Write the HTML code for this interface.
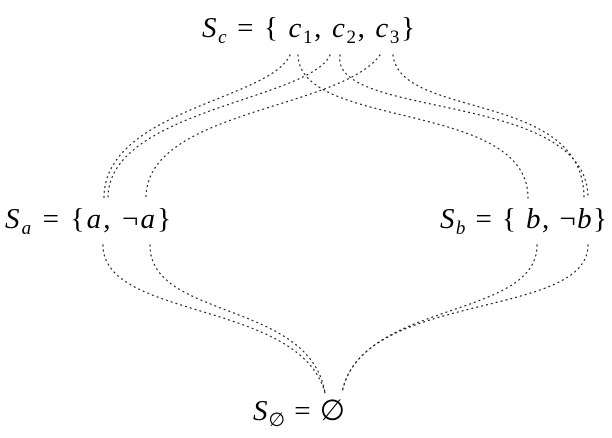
<!DOCTYPE html>
<html><head><meta charset="utf-8"><style>
html,body{margin:0;padding:0;background:#fff;}
svg{display:block}
text{font-family:"Liberation Serif","DejaVu Serif",serif;font-size:29px;fill:#000}
.i{font-style:italic}
.s{font-size:19px}
path{fill:none;stroke:#222;stroke-width:1.2;stroke-dasharray:1 4;stroke-linecap:round}
</style></head><body>
<svg width="612" height="438" viewBox="0 0 612 438">
<text x="202" y="37" textLength="213" lengthAdjust="spacing"><tspan class="i">S</tspan><tspan class="i s" dy="6">c</tspan><tspan dy="-6"> = { </tspan><tspan class="i">c</tspan><tspan class="s" dy="6">1</tspan><tspan dy="-6">, </tspan><tspan class="i">c</tspan><tspan class="s" dy="6">2</tspan><tspan dy="-6">, </tspan><tspan class="i">c</tspan><tspan class="s" dy="6">3</tspan><tspan dy="-6">}</tspan></text>
<text x="5" y="228" textLength="166" lengthAdjust="spacing"><tspan class="i">S</tspan><tspan class="i s" dy="6">a</tspan><tspan dy="-6"> = {</tspan><tspan class="i">a</tspan><tspan>, ¬</tspan><tspan class="i">a</tspan><tspan>}</tspan></text>
<text x="440" y="228" textLength="167" lengthAdjust="spacing"><tspan class="i">S</tspan><tspan class="i s" dy="6">b</tspan><tspan dy="-6"> = { </tspan><tspan class="i">b</tspan><tspan>,  ¬</tspan><tspan class="i">b</tspan><tspan>}</tspan></text>
<text x="253" y="420" textLength="92" lengthAdjust="spacing"><tspan class="i">S</tspan><tspan class="s" dy="6">∅</tspan><tspan dy="-6"> = ∅</tspan></text>
<path d="M290 55 C270 100 104 110 104 198"/>
<path d="M298 55 C300 130 528 100 528 198"/>
<path d="M330 55 C310 100 108 110 108 198"/>
<path d="M340 55 C330 120 588 90 588 198"/>
<path d="M380 55 C340 110 146 110 146 198"/>
<path d="M393 55 C400 120 584 90 584 198"/>
<path d="M103 245 C103 320 300 300 325 393"/>
<path d="M150 245 C150 320 310 300 325 393"/>
<path d="M537 245 C537 320 360 300 342 393"/>
<path d="M588 245 C588 320 360 290 342 393"/>
</svg>
</body></html>
